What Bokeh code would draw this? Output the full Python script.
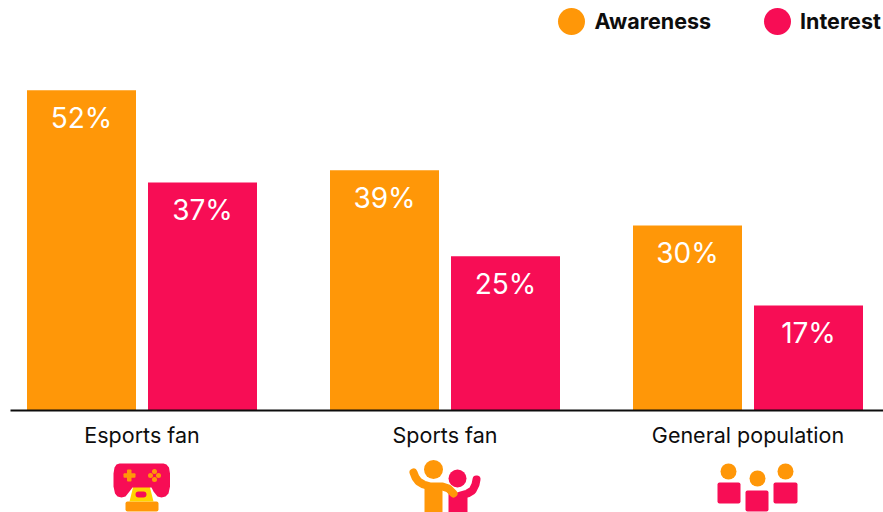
from bokeh.plotting import figure
from bokeh.models import Range1d, LinearAxis, FixedTicker
from bokeh.core.properties import value
from bokeh.embed import file_html
from bokeh.resources import INLINE

categories = ["Esports fan", "Sports fan", "General population"]
awareness = [52, 39, 30]
interest = [37, 25, 17]
series_names = ["Awareness", "Interest"]

ORANGE = "#FF9708"
PINK = "#F70D55"
INK = "#0D0D0D"
FONT = "Inter"

W, H = 883, 512
PX_PER_GROUP = 303
PX_PER_PCT = 320 / 52
X0_IMG, Y0_IMG = 141.5, 409.7  # image pixel of group 0 centre / baseline

p = figure(width=W, height=H, output_backend="svg", toolbar_location=None,
           min_border=0, outline_line_color=None,
           x_range=Range1d((0 - X0_IMG) / PX_PER_GROUP, (883 - X0_IMG) / PX_PER_GROUP),
           y_range=Range1d((Y0_IMG - 512) / PX_PER_PCT, Y0_IMG / PX_PER_PCT),
           x_axis_type=None, y_axis_type=None)
p.grid.visible = False
p.background_fill_color = "white"
p.border_fill_color = "white"

# overlay range in reference pixels for legend + icons
p.extra_x_ranges["px"] = Range1d(0, 883)
p.extra_y_ranges["px"] = Range1d(512, 0)
PX = dict(x_range_name="px", y_range_name="px")

xs = list(range(len(categories)))
W_BAR = 109 / PX_PER_GROUP
OFF = 60.5 / PX_PER_GROUP
xa = [x - OFF for x in xs]
xi = [x + OFF for x in xs]
p.vbar(x=xa, top=awareness, bottom=0, width=W_BAR, fill_color=ORANGE, line_color=None)
p.vbar(x=xi, top=interest, bottom=0, width=W_BAR, fill_color=PINK, line_color=None)

for xx, vals in ((xa, awareness), (xi, interest)):
    p.text(x=xx, y=vals, text=[f"{v}%" for v in vals], y_offset=27.5,
           text_color="white", text_align="center", text_baseline="middle",
           text_font=value(FONT), text_font_size="28px")

ax = LinearAxis(fixed_location=0)
ax.ticker = FixedTicker(ticks=xs)
ax.major_label_overrides = {i: c for i, c in enumerate(categories)}
ax.major_tick_line_color = None
ax.minor_tick_line_color = None
ax.axis_line_color = None
ax.major_label_text_font = FONT
ax.major_label_text_font_size = "21.5px"
ax.major_label_text_color = INK
ax.major_label_standoff = 6
p.add_layout(ax, "below")
p.line(x=[10, 883], y=[410, 410], line_color=INK, line_width=2, **PX)

# legend
p.scatter(x=[571, 777], y=[21, 21], size=27, fill_color=[ORANGE, PINK], line_color=None, **PX)
p.text(x=[594, 799.5], y=[20, 20], text=series_names, text_color=INK,
       text_font=value(FONT), text_font_style="bold", text_font_size="21.5px",
       text_align="left", text_baseline="middle", **PX)

# icon: controller
p.quad(left=[125], right=[158], top=[501], bottom=[511], fill_color=ORANGE, line_color=None, border_radius=2, **PX)
p.patch(x=[133, 149, 153, 129], y=[485, 485, 501, 501], fill_color="#FFD400", line_color=None, **PX)
p.patch(x=[119, 163, 166, 168.5, 169.5, 169.5, 168, 165, 161, 157, 153, 151, 132, 129, 125, 121, 117, 114.5, 113, 113, 114, 116],
        y=[463, 463, 464, 467, 473, 486, 493, 496, 497, 496, 491, 487, 487, 491, 496, 497, 496, 493, 486, 473, 467, 464],
        fill_color=PINK, line_color=None, **PX)
p.quad(left=[135], right=[146], top=[491], bottom=[497], fill_color=PINK, line_color=None, border_radius=3, **PX)
p.quad(left=[123, 126.5], right=[135, 131], top=[472.75, 469], bottom=[477.25, 481], fill_color=ORANGE, line_color=None, border_radius=1, **PX)
p.scatter(x=[154, 150, 158, 154], y=[471, 475, 475, 479], size=5, fill_color=ORANGE, line_color=None, **PX)

# icon: two fans
p.quad(left=[448], right=[467], top=[492], bottom=[512], fill_color=PINK, line_color=None, **PX)
p.line(x=[476, 475, 472, 467, 460], y=[479, 484, 490, 493, 495], line_color=PINK, line_width=8, line_cap="round", **PX)
p.scatter(x=[457], y=[478], size=18, fill_color=PINK, line_color=None, **PX)
p.quad(left=[424], right=[442], top=[485], bottom=[512], fill_color=ORANGE, line_color=None, **PX)
p.line(x=[413, 415, 418, 423, 430, 442, 448, 453], y=[472, 477, 481, 484, 486, 486, 488, 493], line_color=ORANGE, line_width=8, line_cap="round", **PX)
p.scatter(x=[433], y=[469], size=19, fill_color=ORANGE, line_color=None, **PX)

# icon: general population
p.scatter(x=[728, 757, 785], y=[471, 478, 471], size=16, fill_color=ORANGE, line_color=None, **PX)
p.quad(left=[717, 745, 773], right=[740, 768, 797], top=[482, 490, 482], bottom=[503, 511, 503],
       fill_color=PINK, line_color=None, border_radius=2, **PX)

open("out.html", "w").write(file_html(p, INLINE))
